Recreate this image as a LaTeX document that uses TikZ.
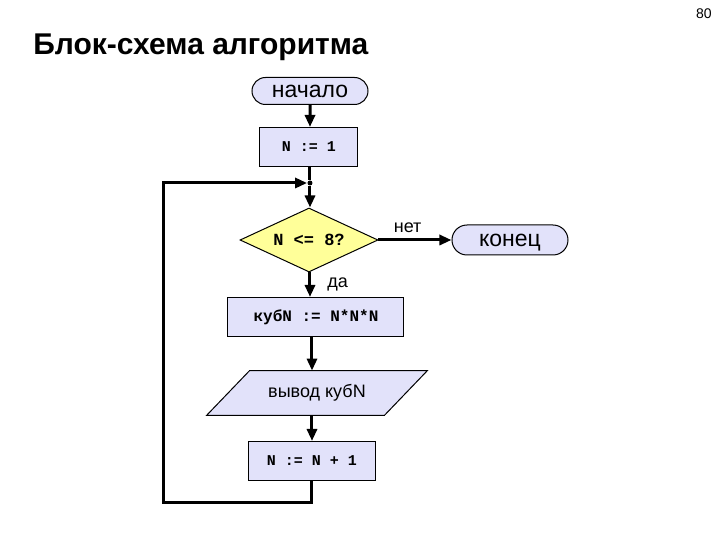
\documentclass[tikz,border=0pt]{standalone}
\usepackage{fontspec}
\setmainfont{Liberation Sans}
\setmonofont{Liberation Mono}
\usetikzlibrary{arrows.meta,shapes.geometric,shapes.misc}

\definecolor{boxfill}{RGB}{226,226,250}
\definecolor{condfill}{RGB}{255,255,153}

\pgfdeclarelayer{bg}
\pgfsetlayers{bg,main}

\tikzset{
  terminal/.style={rounded rectangle, draw, line width=0.5pt, fill=boxfill,
    minimum width=58pt, inner sep=0pt, text depth=0pt,
    font=\fontsize{11.5}{13}\selectfont},
  action/.style={rectangle, draw, line width=0.5pt, fill=boxfill,
    minimum height=19.5pt, inner sep=0pt,
    font=\ttfamily\bfseries\fontsize{7.5}{9}\selectfont},
  cond/.style={diamond, aspect=2.16, draw, line width=0.5pt, fill=condfill,
    minimum width=69pt, minimum height=32pt, inner sep=0pt,
    font=\ttfamily\bfseries\fontsize{8.5}{10}\selectfont},
  iotext/.style={rectangle, inner sep=0pt, minimum width=88.5pt,
    minimum height=22pt, font=\fontsize{9}{11}\selectfont},
  ioshape/.style={draw, line width=0.5pt, fill=boxfill},
  flow/.style={line width=1.5pt, -{Triangle[length=6pt,width=5pt]}},
  plain/.style={line width=1.5pt},
  dot/.style={circle, fill, inner sep=0pt, minimum size=2.5pt},
  lbl/.style={font=\fontsize{9}{11}\selectfont, inner sep=1pt}
}

\begin{document}
\begin{tikzpicture}[x=0.5pt, y=-0.5pt]
  \useasboundingbox (0,0) rectangle (720,540);

  % title and page number
  \node[anchor=base west, inner sep=0pt, font=\bfseries\fontsize{15}{18}\selectfont] (title) at (33,55) {Блок-схема алгоритма};
  \node[anchor=base east, inner sep=0pt, font=\fontsize{7}{8}\selectfont] (page) at (712,19) {80};

  % blocks
  \node[terminal, minimum height=13.5pt] (start) at (310,91) {начало};
  \node[action, minimum width=49pt] (n1) at (309,147) {N := 1};
  \node[dot] (j) at (310,183) {};
  \node[cond] (test) at (309,240) {N <= 8?};
  \node[terminal, minimum height=15pt] (stop) at (510,240) {конец};
  \node[action, minimum width=88pt, font=\ttfamily\bfseries\fontsize{8}{9}\selectfont] (cube) at (316,317) {кубN := N*N*N};
  \node[iotext] (out) at (317,393) {вывод кубN};
  \node[action, minimum width=63.5pt] (inc) at (312,461) {N := N + 1};

  % parallelogram behind the output text
  \begin{pgfonlayer}{bg}
    \draw[ioshape] ([xshift=10.75pt]out.north west) -- ([xshift=10.75pt]out.north east)
      -- ([xshift=-10.75pt]out.south east) -- ([xshift=-10.75pt]out.south west) -- cycle;
  \end{pgfonlayer}

  % loop corner
  \coordinate (lb) at (164,503);

  % connectors
  \draw[flow] (start) -- (start.south |- n1.north);
  \draw[plain] (n1.south -| j) -- (j);
  \draw[flow] (j) -- (j |- test.north);
  \draw[flow] (test.east) -- (stop.west) node[lbl, pos=0.4, above=2pt] (no) {нет};
  \draw[flow] (j |- test.south) -- (j |- cube.north) node[lbl, pos=0.5, right=7pt] (yes) {да};
  \draw[flow] (inc |- cube.south) -- (inc |- out.north);
  \draw[flow] (inc |- out.south) -- (inc.north);
  \draw[flow] (inc.south) |- (lb) |- (j.west);
\end{tikzpicture}
\end{document}
